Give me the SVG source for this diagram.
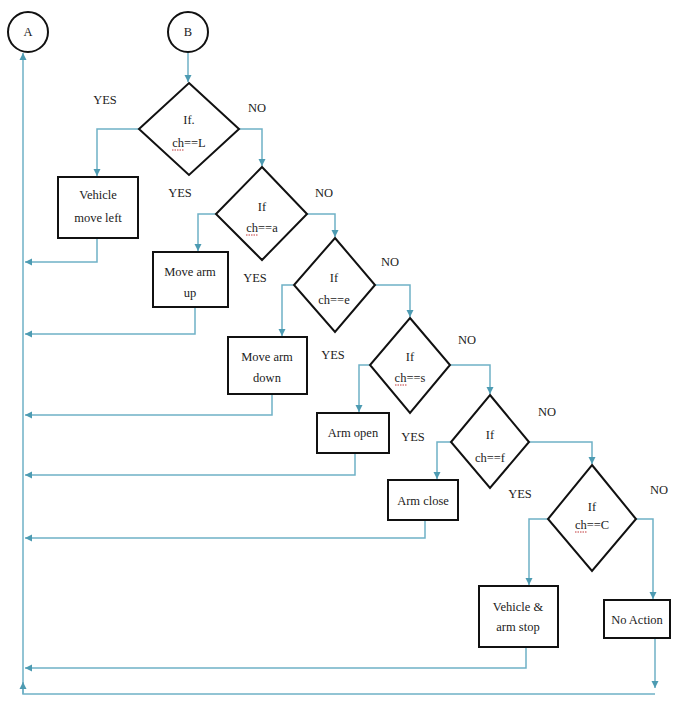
<svg xmlns="http://www.w3.org/2000/svg" width="673" height="702" viewBox="0 0 673 702">
<style>
.sh{fill:#fff;stroke:#111;stroke-width:2}
.t{font-family:'Liberation Serif','DejaVu Serif','Times New Roman',serif;font-size:12.5px;fill:#222;text-anchor:middle}
.c{fill:none;stroke:#6fb1c6;stroke-width:1.5}
.sq{stroke:#c0393b;stroke-width:1;stroke-dasharray:1.5 1}
</style>
<defs>
<marker id="ar" markerUnits="userSpaceOnUse" markerWidth="8" markerHeight="8" refX="7" refY="4" orient="auto">
<path d="M0,0.5 L7,4 L0,7.5 z" fill="#4d9bb2"/>
</marker>
</defs>
<rect width="673" height="702" fill="#fff"/>
<g id="connectors">
<path class="c" d="M188,52 V82" marker-end="url(#ar)"/>
<path class="c" d="M139,129 H97 V176" marker-end="url(#ar)"/>
<path class="c" d="M239,129 H262 V166" marker-end="url(#ar)"/>
<path class="c" d="M216,214 H198 V251" marker-end="url(#ar)"/>
<path class="c" d="M307,214 H335 V237" marker-end="url(#ar)"/>
<path class="c" d="M293,285 H282 V336" marker-end="url(#ar)"/>
<path class="c" d="M374,285 H410 V317" marker-end="url(#ar)"/>
<path class="c" d="M370,365 H359 V412" marker-end="url(#ar)"/>
<path class="c" d="M450,365 H490 V394" marker-end="url(#ar)"/>
<path class="c" d="M451,442 H437 V479" marker-end="url(#ar)"/>
<path class="c" d="M529,442 H592 V464" marker-end="url(#ar)"/>
<path class="c" d="M548,519 H529 V585" marker-end="url(#ar)"/>
<path class="c" d="M636,519 H653 V599" marker-end="url(#ar)"/>
<path class="c" d="M97,238 V262 H25" marker-end="url(#ar)"/>
<path class="c" d="M195,307 V334 H25" marker-end="url(#ar)"/>
<path class="c" d="M272,394 V415 H25" marker-end="url(#ar)"/>
<path class="c" d="M355,453 V475 H25" marker-end="url(#ar)"/>
<path class="c" d="M425,520 V538 H25" marker-end="url(#ar)"/>
<path class="c" d="M526,647 V668 H25" marker-end="url(#ar)"/>
<path class="c" d="M655,638 V688" marker-end="url(#ar)"/>
<path class="c" d="M655,694 H23 V53" marker-end="url(#ar)"/>
<path class="c" d="M23,694 V682" marker-end="url(#ar)"/>
</g>
<g id="A"><circle class="sh" cx="28" cy="32" r="20"/><text class="t" x="28" y="36">A</text></g>
<g id="B"><circle class="sh" cx="188" cy="32" r="20"/><text class="t" x="188" y="36">B</text></g>
<g id="d1"><path class="sh" d="M189,83 L239,129 L189,175 L139,129 Z"/><text class="t" x="189" y="124">If.</text><text class="t" x="189" y="147">ch==L</text><line class="sq" x1="172" y1="150" x2="184" y2="150"/></g>
<g id="d2"><path class="sh" d="M262,167 L307,214 L262,260 L216,214 Z"/><text class="t" x="262" y="211">If</text><text class="t" x="262" y="232">ch==a</text><line class="sq" x1="246" y1="235" x2="258" y2="235"/></g>
<g id="d3"><path class="sh" d="M335,238 L375,285 L335,332 L294,285 Z"/><text class="t" x="334" y="282">If</text><text class="t" x="334" y="304">ch==e</text></g>
<g id="d4"><path class="sh" d="M410,318 L450,365 L410,413 L370,365 Z"/><text class="t" x="410" y="361">If</text><text class="t" x="410" y="382">ch==s</text><line class="sq" x1="395" y1="385" x2="407" y2="385"/></g>
<g id="d5"><path class="sh" d="M490,395 L529,442 L490,488 L451,442 Z"/><text class="t" x="490" y="439">If</text><text class="t" x="490" y="462">ch==f</text></g>
<g id="d6"><path class="sh" d="M592,465 L636,519 L592,571 L548,519 Z"/><text class="t" x="592" y="511">If</text><text class="t" x="592" y="529">ch==C</text><line class="sq" x1="575" y1="532" x2="587" y2="532"/></g>
<g id="b1"><rect class="sh" x="58" y="177" width="80" height="61"/><text class="t" x="98" y="199">Vehicle</text><text class="t" x="98" y="222">move left</text></g>
<g id="b2"><rect class="sh" x="153" y="252" width="75" height="55"/><text class="t" x="190" y="276">Move arm</text><text class="t" x="190" y="297">up</text></g>
<g id="b3"><rect class="sh" x="228" y="337" width="79" height="57"/><text class="t" x="267" y="361">Move arm</text><text class="t" x="267" y="382">down</text></g>
<g id="b4"><rect class="sh" x="317" y="413" width="72" height="40"/><text class="t" x="353" y="437">Arm open</text></g>
<g id="b5"><rect class="sh" x="388" y="480" width="70" height="40"/><text class="t" x="423" y="505">Arm close</text></g>
<g id="b6"><rect class="sh" x="479" y="586" width="79" height="61"/><text class="t" x="518" y="611">Vehicle &amp;</text><text class="t" x="518" y="631">arm stop</text></g>
<g id="b7"><rect class="sh" x="604" y="600" width="66" height="38"/><text class="t" x="637" y="624">No Action</text></g>
<g id="labels">
<text class="t" x="105" y="104">YES</text>
<text class="t" x="257" y="112">NO</text>
<text class="t" x="180" y="197">YES</text>
<text class="t" x="324" y="197">NO</text>
<text class="t" x="255" y="282">YES</text>
<text class="t" x="390" y="266">NO</text>
<text class="t" x="333" y="359">YES</text>
<text class="t" x="467" y="344">NO</text>
<text class="t" x="413" y="441">YES</text>
<text class="t" x="547" y="416">NO</text>
<text class="t" x="520" y="498">YES</text>
<text class="t" x="659" y="494">NO</text>
</g>
</svg>
